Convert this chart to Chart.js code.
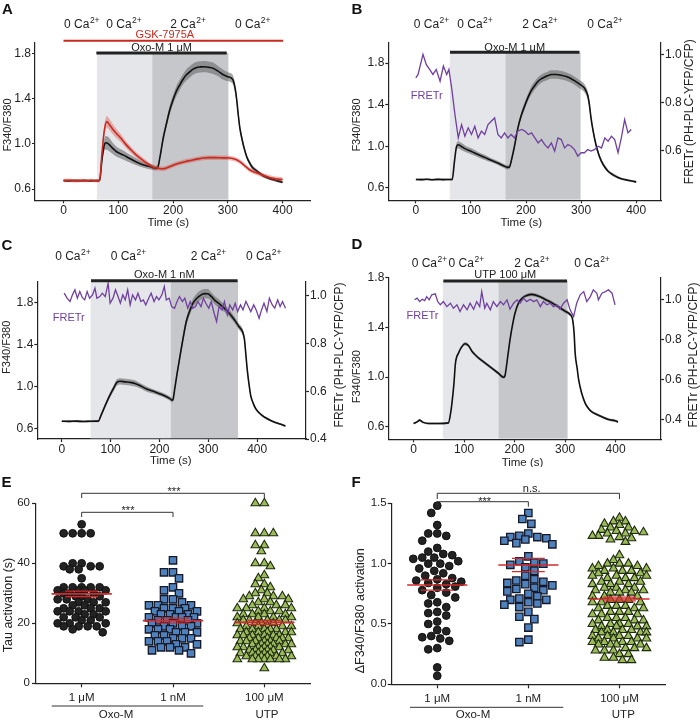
<!DOCTYPE html>
<html><head><meta charset="utf-8">
<script src="https://cdn.jsdelivr.net/npm/chart.js@4/dist/chart.umd.min.js"></script>
<style>
html,body{margin:0;padding:0;background:#fff;width:700px;height:719px;overflow:hidden;position:relative}
canvas{position:absolute}
</style></head><body>
<canvas id="cA" width="350" height="232" style="left:0;top:0;width:350px;height:232px"></canvas>
<canvas id="cB" width="350" height="232" style="left:350px;top:0;width:350px;height:232px"></canvas>
<canvas id="cC" width="350" height="235" style="left:0;top:232px;width:350px;height:235px"></canvas>
<canvas id="cD" width="350" height="235" style="left:350px;top:232px;width:350px;height:235px"></canvas>
<canvas id="cE" width="350" height="252" style="left:0;top:467px;width:350px;height:252px"></canvas>
<canvas id="cF" width="350" height="252" style="left:350px;top:467px;width:350px;height:252px"></canvas>
<script>
// ===================== DATA =====================
const ticksTime = [0, 100, 200, 300, 400];
const ticksRatio = [0.6, 1.0, 1.4, 1.8];
const ticksFretB = [0.6, 0.8, 1.0];
const ticksFret = [0.4, 0.6, 0.8, 1.0];
const caLabels = ['0', '0', '2', '0'];

// Panel A: Oxo-M 1 uM (black) and + GSK-7975A (red)
const tA_oxo = [0,10,20,30,40,50,60,66,70,74,77,82,90,97,110,121,133,145,157,168,172,176,182,188,194,200,206,212,218,224,230,236,242,250,258,266,273,282,291,300,306,310,313,316,319,322,326,330,335,339,345,352,358,364,372,382,392,400];
const vA_oxo = [0.675,0.672,0.676,0.673,0.675,0.672,0.674,0.676,0.85,0.98,1.01,1.0,0.96,0.93,0.90,0.87,0.84,0.815,0.80,0.785,0.79,0.88,1.05,1.18,1.30,1.39,1.466,1.52,1.57,1.61,1.636,1.66,1.675,1.682,1.684,1.678,1.67,1.645,1.615,1.595,1.585,1.56,1.50,1.40,1.26,1.14,1.04,0.958,0.88,0.839,0.79,0.764,0.74,0.72,0.70,0.684,0.67,0.66];
const sA_oxo = [0.01,0.01,0.01,0.01,0.01,0.01,0.01,0.01,0.03,0.05,0.06,0.06,0.05,0.045,0.04,0.035,0.03,0.025,0.025,0.02,0.02,0.025,0.03,0.035,0.04,0.04,0.045,0.045,0.045,0.05,0.05,0.05,0.05,0.05,0.05,0.05,0.05,0.045,0.045,0.04,0.04,0.04,0.04,0.04,0.035,0.03,0.03,0.025,0.02,0.02,0.02,0.015,0.015,0.015,0.012,0.012,0.012,0.012];
const tA_gsk = [0,10,20,30,40,50,60,66,70,74,79,84,90,97,105,113,121,133,145,155,164,172,182,190,200,212,224,240,255,267,279,291,303,312,321,330,339,348,358,370,382,392,400];
const vA_gsk = [0.675,0.678,0.672,0.676,0.674,0.677,0.673,0.675,0.90,1.10,1.197,1.17,1.13,1.09,1.05,1.00,0.958,0.90,0.854,0.82,0.794,0.785,0.779,0.79,0.81,0.83,0.845,0.862,0.875,0.878,0.878,0.876,0.875,0.865,0.845,0.81,0.773,0.75,0.734,0.713,0.695,0.688,0.684];
const sA_gsk = [0.015,0.015,0.015,0.015,0.015,0.015,0.015,0.015,0.03,0.045,0.05,0.05,0.045,0.04,0.035,0.03,0.03,0.025,0.025,0.02,0.02,0.02,0.02,0.02,0.02,0.02,0.02,0.02,0.02,0.02,0.02,0.02,0.02,0.02,0.02,0.02,0.02,0.02,0.02,0.02,0.02,0.02,0.02];

// Panel B: Oxo-M 1 uM, Fura-2 ratio + FRETr
const tB = [0,10,20,30,40,50,60,66,70,74,77,82,90,101,113,125,137,149,158,167,170,173,179,185,191,198,204,210,216,222,228,234,240,246,255,264,273,282,291,300,306,309,312,315,318,322,327,332,337,343,349,358,367,376,385,392,400];
const vB = [0.68,0.679,0.682,0.678,0.681,0.679,0.68,0.68,0.85,1.0,1.014,1.0,0.975,0.95,0.92,0.893,0.865,0.839,0.815,0.797,0.80,0.855,1.0,1.17,1.29,1.395,1.475,1.54,1.585,1.625,1.65,1.667,1.68,1.69,1.69,1.683,1.67,1.65,1.62,1.587,1.56,1.53,1.49,1.40,1.27,1.14,1.014,0.92,0.855,0.80,0.76,0.725,0.70,0.683,0.673,0.665,0.657];
const sB = [0.01,0.01,0.01,0.01,0.01,0.01,0.01,0.01,0.02,0.03,0.035,0.035,0.03,0.03,0.025,0.025,0.02,0.02,0.02,0.02,0.02,0.02,0.025,0.03,0.03,0.035,0.035,0.04,0.04,0.04,0.04,0.04,0.04,0.04,0.04,0.04,0.04,0.04,0.04,0.04,0.04,0.04,0.04,0.035,0.03,0.03,0.025,0.025,0.02,0.02,0.015,0.015,0.012,0.01,0.01,0.01,0.01];
const tB_fret = [0,4,13,19,25,31,37,44,50,56,60,65,71,77,83,89,95,101,107,113,119,125,131,137,143,149,155,161,167,173,179,185,192,198,204,210,216,222,228,234,240,246,252,258,264,270,276,282,288,294,300,306,312,318,324,331,337,343,349,355,361,367,373,379,385,391];
const vB_fret = [0.902,0.916,1.0,0.957,0.937,0.916,0.937,0.888,0.951,0.916,0.937,0.86,0.749,0.652,0.707,0.659,0.694,0.666,0.70,0.652,0.68,0.666,0.707,0.721,0.735,0.666,0.652,0.673,0.652,0.666,0.652,0.68,0.687,0.68,0.666,0.673,0.652,0.631,0.645,0.624,0.61,0.631,0.597,0.652,0.645,0.61,0.624,0.617,0.603,0.576,0.59,0.59,0.603,0.597,0.603,0.617,0.61,0.652,0.638,0.659,0.645,0.59,0.652,0.728,0.673,0.687];

// Panel C: Oxo-M 1 nM
const tC = [0,15,30,45,60,75,80,90,100,108,113,120,130,140,150,160,174,190,207,220,226,228,232,236,241,248,255,262,268,276,284,292,299,306,314,322,333,343,353,363,370,374,377,380,384,387,392,397,404,410,420,431,445,458];
const vC = [0.669,0.668,0.67,0.667,0.669,0.67,0.72,0.83,0.93,1.0,1.04,1.05,1.045,1.04,1.03,1.01,0.976,0.95,0.92,0.89,0.87,0.88,1.0,1.12,1.26,1.45,1.62,1.72,1.79,1.84,1.87,1.886,1.885,1.86,1.82,1.79,1.745,1.70,1.64,1.57,1.525,1.45,1.30,1.15,1.0,0.91,0.84,0.79,0.75,0.725,0.695,0.669,0.645,0.625];
const sC = [0.01,0.01,0.01,0.01,0.01,0.01,0.015,0.02,0.025,0.03,0.03,0.03,0.03,0.03,0.03,0.025,0.025,0.02,0.02,0.02,0.02,0.02,0.025,0.03,0.035,0.04,0.04,0.04,0.04,0.045,0.045,0.045,0.045,0.04,0.04,0.04,0.035,0.035,0.03,0.03,0.03,0.025,0.02,0.02,0.02,0.015,0.015,0.015,0.012,0.012,0.012,0.01,0.01,0.01];
const tC_fret = [5,11,17,22,27,32,37,42,47,52,57,63,68,72,78,83,89,95,99,105,110,114,120,125,130,135,140,145,151,156,162,167,172,178,183,189,194,199,205,210,214,220,225,231,236,241,247,252,258,263,268,274,279,285,290,295,301,306,312,317,322,328,333,339,344,350,355,360,366,371,377,382,387,393,398,404,409,414,420,425,431,436,442,447,452,458];
const vC_fret = [1.01,0.989,0.975,1.003,1.024,0.989,1.017,0.992,0.982,1.017,0.989,1.003,1.031,0.989,0.996,1.01,0.996,1.051,0.968,0.989,1.024,1.003,0.968,1.003,0.982,1.024,0.961,1.003,0.982,1.01,0.975,0.982,0.961,0.989,1.01,0.975,0.996,0.982,1.003,1.038,0.982,0.989,0.954,0.947,0.975,0.996,0.975,0.989,0.947,0.975,0.947,0.954,0.975,0.954,0.989,0.968,0.947,0.975,0.926,0.891,0.954,0.94,0.975,0.919,0.961,0.94,0.968,0.933,0.961,0.94,0.975,0.954,0.933,0.961,0.94,0.905,0.94,0.968,0.933,0.989,0.961,0.947,0.982,0.954,0.975,0.947];

// Panel D: UTP 100 uM
const tD = [0,7,12,18,30,50,69,73,76,80,83,89,96,102,109,116,122,129,142,155,168,178,181,183,187,191,196,201,208,214,221,234,248,261,274,287,300,310,315,318,320,324,327,333,340,346,353,363,373,386,399,405];
const vD = [0.627,0.64,0.654,0.638,0.627,0.627,0.632,0.70,0.789,0.95,1.112,1.193,1.247,1.268,1.252,1.206,1.18,1.153,1.112,1.072,1.031,0.999,1.01,1.058,1.18,1.30,1.42,1.516,1.597,1.63,1.651,1.665,1.651,1.624,1.597,1.565,1.53,1.503,1.463,1.35,1.193,1.07,0.977,0.87,0.789,0.75,0.721,0.70,0.681,0.66,0.649,0.64];
const sD = [0.008,0.008,0.008,0.008,0.008,0.008,0.008,0.01,0.012,0.012,0.012,0.012,0.012,0.014,0.012,0.012,0.012,0.012,0.012,0.012,0.012,0.012,0.012,0.012,0.012,0.012,0.012,0.012,0.014,0.014,0.014,0.014,0.014,0.014,0.014,0.014,0.014,0.014,0.014,0.012,0.012,0.012,0.012,0.012,0.012,0.01,0.01,0.01,0.01,0.01,0.01,0.01];
const tD_fret = [2,7,12,17,22,26,31,36,43,48,53,59,66,73,79,86,92,99,106,112,119,125,131,135,141,145,152,158,165,172,178,185,191,198,205,211,218,224,231,238,244,251,257,264,271,277,284,290,297,304,310,317,323,330,337,343,350,356,363,366,373,380,386,393,399];
const vD_fret = [0.997,1.005,0.988,1.0,0.993,1.013,0.997,1.022,1.027,0.988,0.972,0.988,0.963,0.98,0.955,0.972,0.938,0.972,0.947,0.98,0.95,0.988,0.963,1.038,0.955,0.98,0.947,0.988,0.963,0.988,0.972,0.997,0.95,0.98,0.997,0.98,1.005,0.988,1.0,0.988,0.997,0.963,0.988,0.972,0.98,0.963,0.972,0.95,0.98,0.997,0.947,0.913,0.98,1.022,1.038,0.988,1.013,1.047,1.03,0.997,1.03,1.038,1.047,1.03,0.972];

// Panels E/F
const catLabels = ['1 \u03bcM', '1 nM', '100 \u03bcM'];
const tauOxo1uM = [53,50,50,50,50,40,40,39,39,39,38,38,35,32,32,32,32,32,31,31,31,31,30,30,30,29,29,29,28,28,28,27,27,27,26,26,25,25,25,24,24,24,24,23,23,22,22,22,21,21,20,20,20,19,19,19,19,18,17];
const tauOxo1nM = [41,37,37,35,32,31,30,28,28,27,26,26,26,25,25,25,24,24,24,23,23,23,22,22,22,22,21,21,21,20,20,20,19,19,19,18,18,18,17,17,17,16,16,15,15,15,14,14,14,13,13,12,12,12,11,11,10];
const tauUTP = [60,60,50,50,50,46,46,44,40,40,39,36,35,33,33,32,31,30,30,29,29,29,28,28,28,27,27,26,26,26,25,25,25,25,24,24,24,23,23,23,23,22,22,22,22,21,21,21,21,21,20,20,20,20,19,19,19,19,19,18,18,18,18,18,17,17,17,17,17,16,16,16,16,16,16,15,15,15,15,15,15,14,14,14,14,14,14,13,13,13,13,13,13,12,12,12,12,12,12,11,11,11,11,11,11,10,10,10,10,10,10,9,9,9,9,9,9,8,8,8,8,8,8,8,5];
const tauMean = [29.8, 20.9, 20.3];
const tauSem = [0.9, 0.8, 0.7];
const ampOxo1uM = [1.48,1.42,1.32,1.25,1.25,1.23,1.19,1.13,1.10,1.08,1.07,1.05,1.05,1.04,1.02,1.00,1.00,0.98,0.96,0.94,0.92,0.90,0.88,0.87,0.86,0.85,0.84,0.83,0.81,0.80,0.78,0.76,0.74,0.72,0.68,0.67,0.64,0.60,0.59,0.57,0.52,0.50,0.45,0.44,0.40,0.39,0.38,0.36,0.30,0.29,0.14,0.07];
const ampOxo1nM = [1.42,1.37,1.33,1.25,1.23,1.22,1.22,1.21,1.20,1.19,1.17,1.16,1.06,1.02,1.01,1.00,0.99,0.97,0.94,0.90,0.87,0.86,0.85,0.84,0.83,0.82,0.80,0.79,0.78,0.77,0.75,0.73,0.71,0.70,0.70,0.68,0.67,0.66,0.64,0.60,0.56,0.54,0.47,0.37,0.35];
const ampUTP = [1.38,1.35,1.35,1.33,1.32,1.30,1.30,1.28,1.27,1.27,1.26,1.25,1.25,1.23,1.23,1.22,1.21,1.20,1.18,1.07,1.03,1.00,1.00,1.00,0.98,0.98,0.96,0.96,0.96,0.94,0.94,0.94,0.92,0.92,0.90,0.90,0.90,0.88,0.88,0.88,0.85,0.85,0.85,0.83,0.83,0.83,0.80,0.80,0.80,0.78,0.78,0.78,0.76,0.76,0.76,0.73,0.73,0.73,0.70,0.70,0.70,0.68,0.68,0.68,0.65,0.65,0.65,0.63,0.63,0.63,0.60,0.60,0.60,0.58,0.58,0.58,0.55,0.55,0.55,0.53,0.53,0.53,0.50,0.50,0.50,0.50,0.48,0.48,0.48,0.48,0.45,0.45,0.45,0.45,0.43,0.43,0.43,0.43,0.40,0.40,0.40,0.40,0.38,0.38,0.38,0.38,0.35,0.35,0.35,0.35,0.33,0.33,0.33,0.33,0.30,0.30,0.30,0.28,0.28,0.28,0.25,0.25,0.22,0.22,0.20,0.20];
const ampMean = [0.823, 0.989, 0.707];
const ampSem = [0.042, 0.055, 0.015];

// ===================== RENDERING =====================
const FONT = "'Liberation Sans', Arial, Helvetica, sans-serif";
const INK = '#222';
const LIGHT = '#e5e6ea', DARK = '#c6c7cb';
const RED = '#c62a20', PURPLE = '#7040a0';
Chart.defaults.font.family = FONT;
Chart.defaults.font.size = 12;
Chart.defaults.color = INK;

function text(ctx, s, x, y, o = {}) {
  ctx.save();
  ctx.font = `${o.weight || 'normal'} ${o.size || 12}px ${FONT}`;
  ctx.fillStyle = o.color || INK;
  ctx.textAlign = o.align || 'center';
  ctx.textBaseline = o.base || 'alphabetic';
  if (o.rot) { ctx.translate(x, y); ctx.rotate(o.rot); ctx.fillText(s, 0, 0); }
  else ctx.fillText(s, x, y);
  ctx.restore();
}
function caText(ctx, pre, x, y) {
  ctx.save();
  ctx.font = `12px ${FONT}`;
  const main = pre + ' Ca';
  const wm = ctx.measureText(main).width;
  ctx.font = `8.5px ${FONT}`;
  const ws = ctx.measureText('2+').width;
  const x0 = x - (wm + ws) / 2;
  ctx.fillStyle = INK; ctx.textAlign = 'left'; ctx.textBaseline = 'alphabetic';
  ctx.font = `12px ${FONT}`; ctx.fillText(main, x0, y);
  ctx.font = `8.5px ${FONT}`; ctx.fillText('2+', x0 + wm + 0.5, y - 5);
  ctx.restore();
}
function hline(ctx, x0, x1, y, color, w) {
  ctx.save(); ctx.strokeStyle = color; ctx.lineWidth = w;
  ctx.beginPath(); ctx.moveTo(x0, y); ctx.lineTo(x1, y); ctx.stroke(); ctx.restore();
}

function axisBase(extra) {
  return Object.assign({
    type: 'linear',
    border: { display: true, color: INK, width: 1.2 },
    grid: { display: true, drawOnChartArea: false, drawTicks: true, tickLength: 3, color: INK, tickWidth: 1.2 },
    ticks: { padding: 1, color: INK, font: { size: 12 } }
  }, extra);
}
function fixedTicks(list) { return s => { s.ticks = list.map(v => ({ value: v })); }; }

function traceChart(id, L) {
  const datasets = [];
  L.series.forEach(s => {
    if (s.sem) {
      datasets.push({ data: s.t.map((t, i) => ({ x: t, y: s.v[i] + s.sem[i] })), borderWidth: 0, pointRadius: 0, fill: false, yAxisID: 'y', order: s.order + 1, cubicInterpolationMode: 'monotone' });
      datasets.push({ data: s.t.map((t, i) => ({ x: t, y: s.v[i] - s.sem[i] })), borderWidth: 0, pointRadius: 0, fill: '-1', backgroundColor: s.band, yAxisID: 'y', order: s.order + 1, cubicInterpolationMode: 'monotone' });
    }
    datasets.push({ data: s.t.map((t, i) => ({ x: t, y: s.v[i] })), borderColor: s.color, borderWidth: s.w, pointRadius: 0, fill: false, yAxisID: s.axis, order: s.order, cubicInterpolationMode: s.sem ? 'monotone' : 'default', tension: 0 });
  });
  const scales = {
    x: axisBase({ min: L.xmin, max: L.xmax, afterBuildTicks: fixedTicks(ticksTime), ticks: { padding: 0, color: INK, font: { size: 12 }, callback: v => String(v) }, afterFit: s => { s.height = L.xh; } }),
    y: axisBase({ position: 'left', min: L.ymin, max: L.ymax, afterBuildTicks: fixedTicks(ticksRatio), ticks: { padding: 1, color: INK, font: { size: 12 }, callback: v => v.toFixed(1) }, afterFit: s => { s.width = L.yw; } })
  };
  if (L.y2) {
    scales.y2 = axisBase({ position: 'right', min: L.y2.min, max: L.y2.max, afterBuildTicks: fixedTicks(L.y2.ticks), ticks: { padding: 1, color: INK, font: { size: 12 }, callback: v => v.toFixed(1) }, afterFit: s => { s.width = L.y2.w; } });
  }
  const deco = {
    id: 'deco' + id,
    beforeDatasetsDraw(chart) {
      const { ctx, chartArea: a, scales: { x } } = chart;
      ctx.save();
      L.shade.forEach(([t0, t1, col]) => {
        const x0 = x.getPixelForValue(t0), x1 = x.getPixelForValue(t1);
        ctx.fillStyle = col; ctx.fillRect(x0, L.bar.y, x1 - x0, a.bottom - 0.7 - L.bar.y);
      });
      ctx.restore();
    },
    afterDraw(chart) {
      const { ctx, scales: { x } } = chart;
      text(ctx, L.letter, L.letterPos[0], L.letterPos[1], { size: 15, weight: 'bold', align: 'left', color: '#111' });
      L.caT.forEach((t, i) => caText(ctx, caLabels[i], x.getPixelForValue(t), L.caY));
      if (L.red) {
        hline(ctx, x.getPixelForValue(L.red.t0), x.getPixelForValue(L.red.t1), L.red.y, RED, 2);
        text(ctx, L.red.label, x.getPixelForValue(L.red.tl), L.red.ly, { size: 11, color: RED });
      }
      hline(ctx, x.getPixelForValue(L.bar.t0), x.getPixelForValue(L.bar.t1), L.bar.y, '#222', 3);
      text(ctx, L.bar.label, x.getPixelForValue((L.bar.t0 + L.bar.t1) / 2), L.bar.ly, { size: 11 });
      if (L.fretLabel) text(ctx, 'FRETr', L.fretLabel[0], L.fretLabel[1], { size: 11, color: PURPLE, base: 'middle' });
      text(ctx, 'F340/F380', L.yTitle[0], L.yTitle[1], { size: 11, rot: -Math.PI / 2, base: 'middle' });
      if (L.y2Title) text(ctx, 'FRETr (PH-PLC-YFP/CFP)', L.y2Title[0], L.y2Title[1], { size: 12, rot: -Math.PI / 2, base: 'middle' });
      text(ctx, 'Time (s)', L.xTitle[0], L.xTitle[1], { size: 11.5, base: 'middle' });
    }
  };
  return new Chart(document.getElementById(id), {
    type: 'line',
    data: { datasets },
    options: {
      responsive: false, animation: false, devicePixelRatio: 1, events: [],
      layout: { padding: L.pad },
      plugins: { legend: { display: false }, tooltip: { enabled: false } },
      scales
    },
    plugins: [deco]
  });
}

const BAND = 'rgba(105,105,105,0.6)';
const RBAND = 'rgba(215,70,60,0.38)';

traceChart('cA', {
  series: [
    { t: tA_oxo, v: vA_oxo, sem: sA_oxo, color: '#111', w: 1.6, band: BAND, axis: 'y', order: 4 },
    { t: tA_gsk, v: vA_gsk, sem: sA_gsk, color: RED, w: 1.6, band: RBAND, axis: 'y', order: 2 }
  ],
  xmin: -52, xmax: 450, ymin: 0.5, ymax: 1.9, xh: 31.7, yw: 35,
  pad: { left: 0, top: 42.3, right: 40, bottom: 0 },
  shade: [[61, 162, LIGHT], [162, 301, DARK]],
  bar: { t0: 60, t1: 298, y: 53, label: 'Oxo-M 1 \u03bcM', ly: 51 },
  red: { t0: 0, t1: 401, y: 40.7, label: 'GSK-7975A', tl: 185, ly: 37.5 },
  caT: [33, 110, 227, 345], caY: 28.3,
  letter: 'A', letterPos: [2, 14],
  yTitle: [7.5, 125], xTitle: [168.3, 223]
});

traceChart('cB', {
  series: [
    { t: tB, v: vB, sem: sB, color: '#111', w: 1.6, band: BAND, axis: 'y', order: 4 },
    { t: tB_fret, v: vB_fret, color: PURPLE, w: 1.3, axis: 'y2', order: 1 }
  ],
  xmin: -50, xmax: 445, ymin: 0.48, ymax: 2.0, xh: 31.7, yw: 38.3,
  y2: { min: 0.392, max: 1.05, ticks: ticksFretB, w: 39 },
  pad: { left: 0, top: 42.3, right: 0, bottom: 0 },
  shade: [[61.6, 162.5, LIGHT], [162.5, 299, DARK]],
  bar: { t0: 62, t1: 297, y: 52.3, label: 'Oxo-M 1 \u03bcM', ly: 50.5 },
  caT: [28, 107, 225, 343], caY: 28.3,
  fretLabel: [76.7, 95.5],
  letter: 'B', letterPos: [1.5, 14],
  yTitle: [6.7, 125], y2Title: [340, 111.7], xTitle: [171.3, 223]
});

traceChart('cC', {
  series: [
    { t: tC, v: vC, sem: sC, color: '#111', w: 1.6, band: BAND, axis: 'y', order: 4 },
    { t: tC_fret, v: vC_fret, color: PURPLE, w: 1.3, axis: 'y2', order: 1 }
  ],
  xmin: -50, xmax: 500, ymin: 0.5, ymax: 2.0, xh: 28, yw: 37.3,
  y2: { min: 0.4, max: 1.058, ticks: ticksFret, w: 44 },
  pad: { left: 0, top: 49.7, right: 0, bottom: 0 },
  shade: [[59, 223, LIGHT], [223, 361, DARK]],
  bar: { t0: 60, t1: 360, y: 48.7, label: 'Oxo-M 1 nM', ly: 46.3 },
  caT: [22.5, 136, 300, 413], caY: 28,
  fretLabel: [68.8, 85.5],
  letter: 'C', letterPos: [1.5, 18],
  yTitle: [6.7, 115.3], y2Title: [340, 123], xTitle: [170.8, 229]
});

traceChart('cD', {
  series: [
    { t: tD, v: vD, sem: sD, color: '#111', w: 1.6, band: BAND, axis: 'y', order: 4 },
    { t: tD_fret, v: vD_fret, color: PURPLE, w: 1.3, axis: 'y2', order: 1 }
  ],
  xmin: -50, xmax: 490, ymin: 0.5, ymax: 1.8, xh: 27.7, yw: 38.3,
  y2: { min: 0.3, max: 1.108, ticks: ticksFret, w: 39 },
  pad: { left: 0, top: 45.6, right: 0, bottom: 0 },
  shade: [[58, 168, LIGHT], [168, 305, DARK]],
  bar: { t0: 59, t1: 304, y: 49, label: 'UTP 100 \u03bcM', ly: 46.3 },
  caT: [31, 104, 234, 353], caY: 34.7,
  fretLabel: [72.5, 83.8],
  letter: 'D', letterPos: [1.5, 16.5],
  yTitle: [6.7, 144.7], y2Title: [343.3, 123], xTitle: [172.5, 231.3]
});

// -------- beeswarm layout (pixel-space jitter only) --------
function swarm(values, center, o) {
  const idx = values.map((_, i) => i).sort((a, b) => values[b] - values[a]);
  const placed = [], pts = [];
  const nMax = Math.floor(o.maxHalf / o.step);
  for (const i of idx) {
    const py = values[i] * o.pxY;
    const near = placed.filter(p => Math.abs(p.y - py) < o.minD);
    let best = 0, bestD = -1;
    for (let n = 0; n <= 2 * nMax; n++) {
      const k = Math.ceil(n / 2) * (n % 2 ? -1 : 1);
      const cx = k * o.step;
      let dmin = Infinity;
      for (const p of near) dmin = Math.min(dmin, Math.hypot(p.x - cx, p.y - py));
      if (dmin >= o.minD) { best = cx; bestD = dmin; break; }
      if (dmin > bestD) { bestD = dmin; best = cx; }
    }
    placed.push({ x: best, y: py });
    pts.push({ x: center + best / o.pxX, y: values[i] });
  }
  return pts;
}

function scatterChart(id, L) {
  const st = [
    { pointStyle: 'circle', radius: 3.9, bg: '#222', bc: '#111', bw: 1 },
    { pointStyle: 'rect', radius: 5.2, bg: '#4f81bd', bc: '#15192a', bw: 1.3 },
    { pointStyle: 'triangle', radius: 5, bg: '#9bbb59', bc: '#1d2a0e', bw: 1.1 }
  ];
  const datasets = [];
  L.groups.forEach((vals, g) => {
    datasets.push({ type: 'scatter', data: swarm(vals, g + 1, L.sw[g]), pointStyle: st[g].pointStyle, pointRadius: st[g].radius, backgroundColor: st[g].bg, borderColor: st[g].bc, pointBorderWidth: st[g].bw, order: 5, clip: false });
  });
  L.mean.forEach((m, g) => {
    const c = g + 1;
    datasets.push({ type: 'line', data: [{ x: c - 0.33, y: m }, { x: c + 0.33, y: m }], borderColor: '#d22a2a', borderWidth: 1.6, pointRadius: 0, order: 1 });
    [m + L.sem[g], m - L.sem[g]].forEach(v => datasets.push({ type: 'line', data: [{ x: c - 0.18, y: v }, { x: c + 0.18, y: v }], borderColor: '#d22a2a', borderWidth: 1.2, pointRadius: 0, order: 1 }));
  });
  const deco = {
    id: 'deco' + id,
    afterDraw(chart) {
      const { ctx, scales: { x } } = chart;
      const px = v => x.getPixelForValue(v);
      text(ctx, L.letter, 1.5, 19.7, { size: 15, weight: 'bold', align: 'left', color: '#111' });
      ctx.save(); ctx.strokeStyle = '#333'; ctx.lineWidth = 1;
      L.brackets.forEach(b => {
        ctx.beginPath();
        ctx.moveTo(px(b.c0), b.drop); ctx.lineTo(px(b.c0), b.y); ctx.lineTo(px(b.c1), b.y); ctx.lineTo(px(b.c1), b.drop);
        ctx.stroke();
      });
      ctx.restore();
      L.brackets.forEach(b => text(ctx, b.label, b.lx, b.ly, { size: 11 }));
      hline(ctx, L.under[0], L.under[1], L.under[2], '#333', 1);
      text(ctx, 'Oxo-M', L.oxoX, 251, { size: 11.5 });
      text(ctx, 'UTP', L.utpX, 251, { size: 11.5 });
      text(ctx, L.yTitle, L.yTitlePos[0], L.yTitlePos[1], { size: 12.5, rot: -Math.PI / 2, base: 'middle' });
    }
  };
  return new Chart(document.getElementById(id), {
    type: 'scatter',
    data: { datasets },
    options: {
      responsive: false, animation: false, devicePixelRatio: 1, events: [],
      layout: { padding: L.pad },
      plugins: { legend: { display: false }, tooltip: { enabled: false } },
      scales: {
        x: axisBase({ min: 0.5, max: 3.5, afterBuildTicks: fixedTicks([1, 2, 3]), grid: { display: true, drawOnChartArea: false, tickLength: 4, color: INK, tickWidth: 1.2 }, ticks: { padding: 4, color: INK, font: { size: 11.5 }, callback: v => catLabels[Math.round(v) - 1] }, afterFit: s => { s.height = L.xh; } }),
        y: axisBase({ min: L.ymin, max: L.ymax, afterBuildTicks: fixedTicks(L.yticks), grid: { display: true, drawOnChartArea: false, tickLength: 4, color: INK, tickWidth: 1.2 }, ticks: { padding: L.ypad, color: INK, font: { size: 11.5 }, callback: L.yfmt }, afterFit: s => { s.width = L.yw; } })
      }
    },
    plugins: [deco]
  });
}

scatterChart('cE', {
  groups: [tauOxo1uM, tauOxo1nM, tauUTP], mean: tauMean, sem: tauSem,
  sw: [
    { pxX: 91.3, pxY: 3, minD: 7.5, step: 3, maxHalf: 26 },
    { pxX: 91.3, pxY: 3, minD: 7.5, step: 3, maxHalf: 26 },
    { pxX: 91.3, pxY: 3, minD: 6.5, step: 3, maxHalf: 28 }
  ],
  ymin: 0, ymax: 60, yticks: [0, 20, 40, 60], yfmt: v => String(v), ypad: 2,
  yw: 36, xh: 35.7, pad: { left: 0, top: 36.3, right: 40, bottom: 0 },
  letter: 'E',
  brackets: [
    { c0: 1, c1: 3, y: 26.3, drop: 31, label: '***', lx: 174, ly: 28 },
    { c0: 1, c1: 2, y: 45.3, drop: 50, label: '***', lx: 128, ly: 47 }
  ],
  under: [51.7, 203.3, 239], oxoX: 116, utpX: 267,
  yTitle: 'Tau activation (s)', yTitlePos: [8.3, 138]
});

scatterChart('cF', {
  groups: [ampOxo1uM, ampOxo1nM, ampUTP], mean: ampMean, sem: ampSem,
  sw: [
    { pxX: 91.1, pxY: 120.67, minD: 8, step: 3, maxHalf: 26 },
    { pxX: 91.1, pxY: 120.67, minD: 8, step: 3, maxHalf: 26 },
    { pxX: 91.1, pxY: 120.67, minD: 6.5, step: 3, maxHalf: 27 }
  ],
  ymin: 0, ymax: 1.5, yticks: [0, 0.5, 1.0, 1.5], yfmt: v => v.toFixed(1), ypad: 1,
  yw: 41.7, xh: 34.7, pad: { left: 0, top: 36.3, right: 35, bottom: 0 },
  letter: 'F',
  brackets: [
    { c0: 1, c1: 3, y: 26.3, drop: 32, label: 'n.s.', lx: 181.7, ly: 24.7 },
    { c0: 1, c1: 2, y: 34.7, drop: 39.7, label: '***', lx: 134.7, ly: 37.7 }
  ],
  under: [60, 213.3, 240.3], oxoX: 123, utpX: 273.3,
  yTitle: '\u0394F340/F380 activation', yTitlePos: [10.8, 143.8]
});
</script>
</body></html>
